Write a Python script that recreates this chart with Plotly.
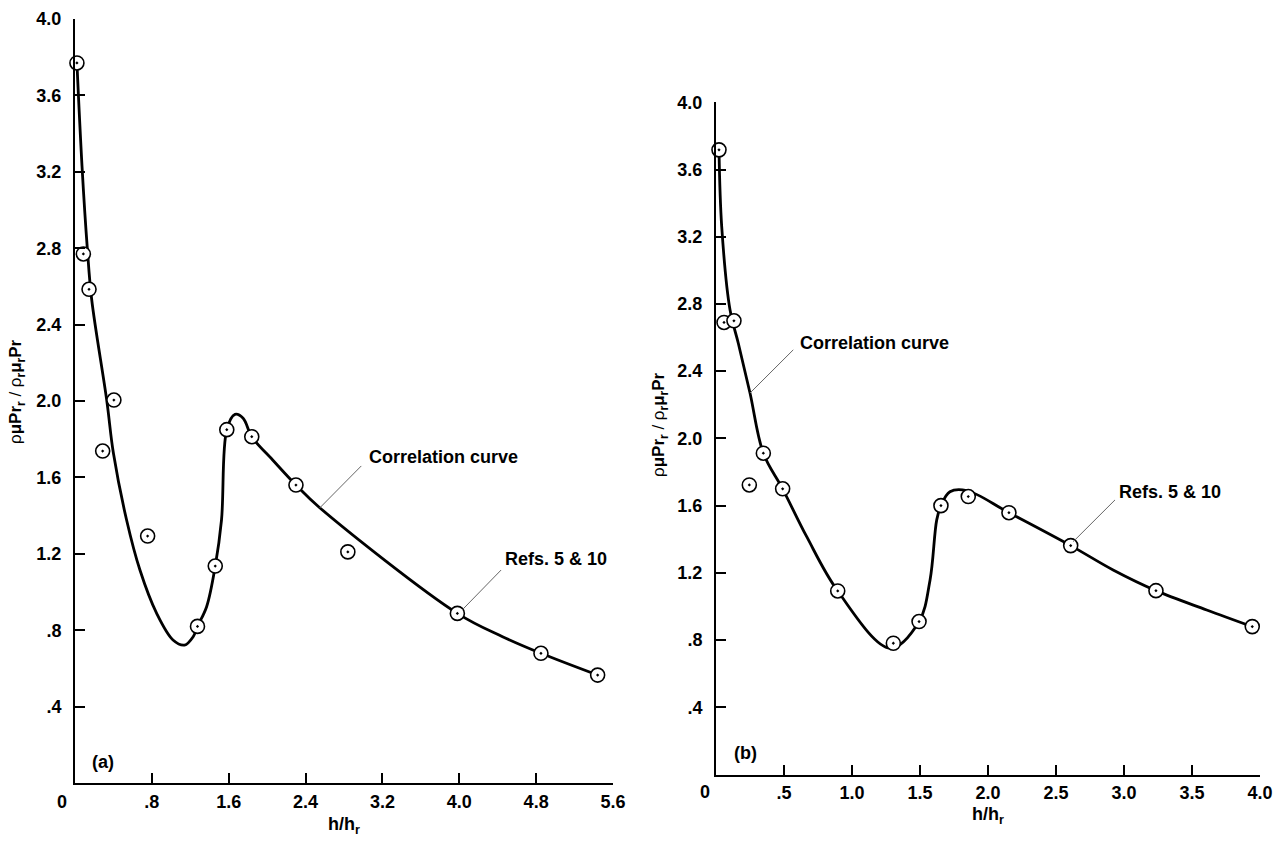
import plotly.graph_objects as go

W, H = 1282, 842

# ---------------- data: panel (a) ----------------
a_pts_x = [0.02, 0.087, 0.146, 0.288, 0.405, 0.756, 1.275, 1.46, 1.58, 1.84, 2.30, 2.84, 3.98, 4.85, 5.44]
a_pts_y = [3.77, 2.77, 2.585, 1.738, 2.005, 1.293, 0.82, 1.136, 1.85, 1.813, 1.56, 1.21, 0.888, 0.679, 0.565]

a_curve_x = [0.02, 0.073, 0.128, 0.174, 0.33, 0.40, 0.537, 0.676, 0.85, 1.02, 1.14, 1.23, 1.275, 1.37,
             1.46, 1.525, 1.58, 1.665, 1.75, 1.84, 2.06, 2.30, 2.55, 3.98, 4.45, 4.85, 5.44]
a_curve_y = [3.77, 3.23, 2.80, 2.53, 2.005, 1.726, 1.377, 1.115, 0.888, 0.749, 0.722, 0.766, 0.82, 0.923,
             1.136, 1.377, 1.85, 1.93, 1.91, 1.813, 1.69, 1.56, 1.44, 0.888, 0.766, 0.679, 0.565]

# ---------------- data: panel (b) ----------------
b_pts_x = [0.022, 0.059, 0.132, 0.245, 0.348, 0.49, 0.895, 1.304, 1.493, 1.654, 1.855, 2.154, 2.608, 3.235, 3.943]
b_pts_y = [3.717, 2.69, 2.70, 1.723, 1.912, 1.70, 1.092, 0.781, 0.91, 1.60, 1.654, 1.558, 1.362, 1.094, 0.88]

b_curve_x = [0.022, 0.042, 0.103, 0.164, 0.25, 0.348, 0.49, 0.667, 0.895, 1.28, 1.493, 1.574,
             1.623, 1.654, 1.72, 1.843, 2.154, 2.608, 2.92, 3.235, 3.608, 3.943]
b_curve_y = [3.717, 3.26, 2.765, 2.566, 2.27, 1.912, 1.70, 1.415, 1.092, 0.752, 0.91, 1.158,
             1.515, 1.60, 1.683, 1.69, 1.558, 1.362, 1.217, 1.094, 0.979, 0.88]

# ticks
y_tickvals = [0.4, 0.8, 1.2, 1.6, 2.0, 2.4, 2.8, 3.2, 3.6, 4.0]
y_ticktext = [".4", ".8", "1.2", "1.6", "2.0", "2.4", "2.8", "3.2", "3.6", "4.0"]
a_x_tickvals = [0.8, 1.6, 2.4, 3.2, 4.0, 4.8, 5.6]
a_x_ticktext = [".8", "1.6", "2.4", "3.2", "4.0", "4.8", "5.6"]
b_x_tickvals = [0.5, 1.0, 1.5, 2.0, 2.5, 3.0, 3.5, 4.0]
b_x_ticktext = [".5", "1.0", "1.5", "2.0", "2.5", "3.0", "3.5", "4.0"]

FONT = "Liberation Sans, Arial, Helvetica, sans-serif"
TICKFONT = dict(family=FONT, size=18, color="black")

def bold(lst):
    return ["<b>%s</b>" % t for t in lst]

fig = go.Figure()

line_style = dict(color="black", width=2.8, shape="spline", smoothing=1.0)
marker_style = dict(symbol="circle-dot", size=14, color="white",
                    line=dict(color="black", width=1.6))

fig.add_trace(go.Scatter(x=a_curve_x, y=a_curve_y, mode="lines", line=line_style,
                         xaxis="x", yaxis="y", showlegend=False, hoverinfo="skip"))
fig.add_trace(go.Scatter(x=a_pts_x, y=a_pts_y, mode="markers", marker=marker_style,
                         xaxis="x", yaxis="y", showlegend=False, cliponaxis=False))
fig.add_trace(go.Scatter(x=b_curve_x, y=b_curve_y, mode="lines", line=line_style,
                         xaxis="x2", yaxis="y2", showlegend=False, hoverinfo="skip"))
fig.add_trace(go.Scatter(x=b_pts_x, y=b_pts_y, mode="markers", marker=marker_style,
                         xaxis="x2", yaxis="y2", showlegend=False, cliponaxis=False))

def xax(domain, rng, tv, tt, anchor):
    return dict(domain=domain, range=rng, anchor=anchor, showgrid=False, zeroline=False,
                showline=True, linecolor="black", linewidth=2, ticks="inside", ticklen=10,
                tickwidth=2, tickcolor="black", tickvals=tv, ticktext=bold(tt), tickfont=TICKFONT,
                ticklabelstandoff=1, automargin=False)

def yax(domain, rng, anchor):
    return dict(domain=domain, range=rng, anchor=anchor, showgrid=False, zeroline=False,
                showline=True, linecolor="black", linewidth=2, ticks="inside", ticklen=10,
                tickwidth=2, tickcolor="black", tickvals=y_tickvals, ticktext=bold(y_ticktext),
                tickfont=TICKFONT, ticklabelstandoff=8, automargin=False)

fig.update_layout(
    width=W, height=H,
    margin=dict(l=0, r=0, t=0, b=0),
    paper_bgcolor="white", plot_bgcolor="white",
    xaxis=xax([75 / W, 613 / W], [0, 5.6], a_x_tickvals, a_x_ticktext, "y"),
    yaxis=yax([1 - 783 / H, 1 - 19 / H], [0, 4.0], "x"),
    xaxis2=xax([716 / W, 1260 / W], [0, 4.0], b_x_tickvals, b_x_ticktext, "y2"),
    yaxis2=yax([1 - 774.5 / H, 1 - 102.3 / H], [0, 4.0], "x2"),
)

ann_font = dict(family=FONT, size=18, color="black")
ytitle = ("ρ<b>μPr</b><sub><b>r</b></sub> / ρ<sub><b>r</b></sub><b>μ</b><sub><b>r</b></sub><b>Pr</b>")
xtitle = "<b>h/h</b><sub><b>r</b></sub>"

annotations = [
    # panel (a)
    dict(x=3.04, y=1.707, xref="x", yref="y", text="<b>Correlation curve</b>", showarrow=False,
         xanchor="left", yanchor="middle", font=ann_font),
    dict(x=4.455, y=1.173, xref="x", yref="y", text="<b>Refs. 5 &amp; 10</b>", showarrow=False,
         xanchor="left", yanchor="middle", font=ann_font),
    dict(x=0.156, y=0.11, xref="x", yref="y", text="<b>(a)</b>", showarrow=False,
         xanchor="left", yanchor="middle", font=ann_font),
    # panel (b)
    dict(x=0.603, y=2.568, xref="x2", yref="y2", text="<b>Correlation curve</b>", showarrow=False,
         xanchor="left", yanchor="middle", font=ann_font),
    dict(x=2.949, y=1.68, xref="x2", yref="y2", text="<b>Refs. 5 &amp; 10</b>", showarrow=False,
         xanchor="left", yanchor="middle", font=ann_font),
    dict(x=0.118, y=0.128, xref="x2", yref="y2", text="<b>(b)</b>", showarrow=False,
         xanchor="left", yanchor="middle", font=ann_font),
    # origin "0" labels
    dict(x=62 / W, y=1 - 802 / H, xref="paper", yref="paper", text="<b>0</b>", showarrow=False,
         xanchor="center", yanchor="middle", font=ann_font),
    dict(x=705 / W, y=1 - 792 / H, xref="paper", yref="paper", text="<b>0</b>", showarrow=False,
         xanchor="center", yanchor="middle", font=ann_font),
    # axis titles
    dict(x=344 / W, y=1 - 825 / H, xref="paper", yref="paper", text=xtitle, showarrow=False,
         xanchor="center", yanchor="middle", font=ann_font),
    dict(x=988 / W, y=1 - 815 / H, xref="paper", yref="paper", text=xtitle, showarrow=False,
         xanchor="center", yanchor="middle", font=ann_font),
    dict(x=17 / W, y=1 - 392 / H, xref="paper", yref="paper", text=ytitle, showarrow=False,
         textangle=-90, xanchor="center", yanchor="middle", font=dict(family=FONT, size=17, color="black")),
    dict(x=660 / W, y=1 - 425 / H, xref="paper", yref="paper", text=ytitle, showarrow=False,
         textangle=-90, xanchor="center", yanchor="middle", font=dict(family=FONT, size=17, color="black")),
]
fig.update_layout(annotations=annotations)

leader = dict(color="#666666", width=1)
shapes = [
    dict(type="line", xref="x", yref="y", x0=2.98, y0=1.66, x1=2.547, y1=1.44, line=leader),
    dict(type="line", xref="x", yref="y", x0=4.435, y0=1.115, x1=4.03, y1=0.906, line=leader),
    dict(type="line", xref="x2", yref="y2", x0=0.568, y0=2.527, x1=0.25, y1=2.27, line=leader),
    dict(type="line", xref="x2", yref="y2", x0=2.934, y0=1.634, x1=2.627, y1=1.386, line=leader),
]
fig.update_layout(shapes=shapes)

fig.write_html("out.html")
